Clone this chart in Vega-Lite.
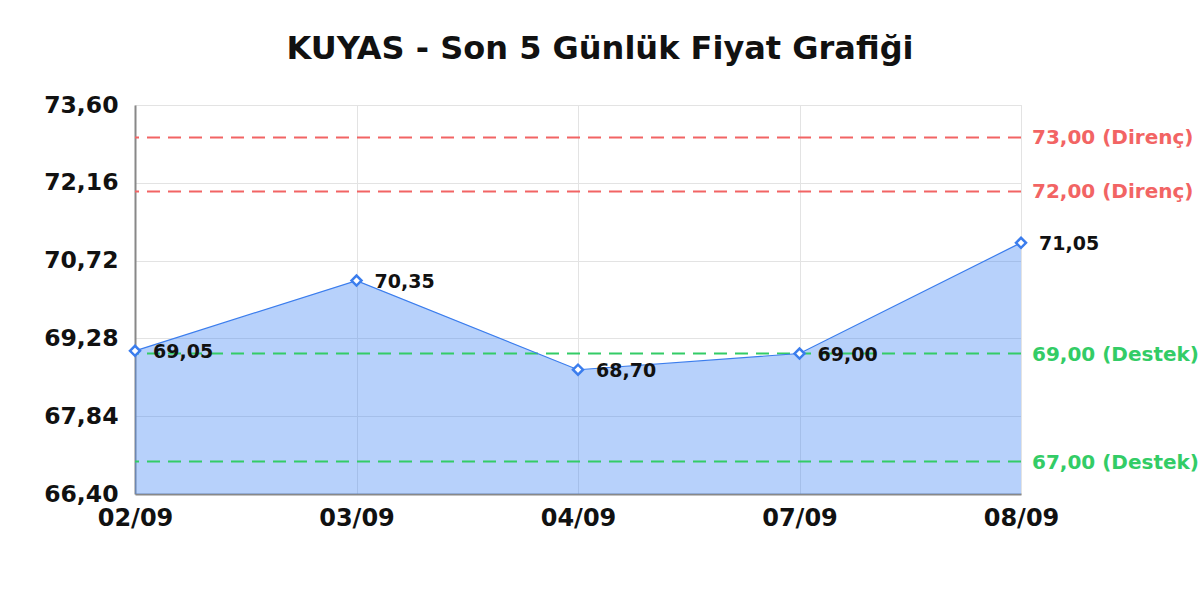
{
  "$schema": "https://vega.github.io/schema/vega-lite/v6.json",
  "width": 886,
  "height": 389,
  "autosize": "none",
  "padding": {"left": 135, "top": 105, "right": 179, "bottom": 106},
  "background": "white",
  "title": {
    "text": "KUYAS - Son 5 Günlük Fiyat Grafiği",
    "font": "DejaVu Sans",
    "fontSize": 32,
    "fontWeight": "bold",
    "color": "#111111",
    "anchor": "middle",
    "dx": 22,
    "offset": 27
  },
  "datasets": {
    "prices": [
      {"date": "02/09", "price": 69.05},
      {"date": "03/09", "price": 70.35},
      {"date": "04/09", "price": 68.70},
      {"date": "07/09", "price": 69.00},
      {"date": "08/09", "price": 71.05}
    ],
    "levels": [
      {"level": 73.00, "kind": "Direnç", "label": "73,00 (Direnç)", "pos": "08/09"},
      {"level": 72.00, "kind": "Direnç", "label": "72,00 (Direnç)", "pos": "08/09"},
      {"level": 69.00, "kind": "Destek", "label": "69,00 (Destek)", "pos": "08/09"},
      {"level": 67.00, "kind": "Destek", "label": "67,00 (Destek)", "pos": "08/09"}
    ]
  },
  "layer": [
    {
      "data": {"name": "prices"},
      "mark": {"type": "area", "color": "#4285f4", "opacity": 0.38, "clip": true},
      "encoding": {
        "x": {
          "field": "date",
          "type": "ordinal",
          "sort": null,
          "scale": {"type": "point", "padding": 0},
          "axis": {
            "title": null,
            "labelAngle": 0,
            "labelFont": "DejaVu Sans",
            "labelFontSize": 24,
            "labelFontWeight": "bold",
            "labelColor": "#111111",
            "labelPadding": 12,
            "ticks": false,
            "domainColor": "#888888",
            "domainWidth": 2,
            "gridColor": "#e3e3e3",
            "grid": true
          }
        },
        "y": {
          "field": "price",
          "type": "quantitative",
          "scale": {"domain": [66.4, 73.6], "zero": false, "nice": false},
          "axis": {
            "title": null,
            "values": [66.4, 67.84, 69.28, 70.72, 72.16, 73.6],
            "format": ".2f",
            "labelFont": "DejaVu Sans",
            "labelFontSize": 23.5,
            "labelFontWeight": "bold",
            "labelColor": "#111111",
            "labelPadding": 17,
            "ticks": false,
            "domainColor": "#888888",
            "domainWidth": 2,
            "gridColor": "#e3e3e3"
          }
        },
        "y2": {"datum": 66.4}
      }
    },
    {
      "data": {"name": "levels"},
      "mark": {"type": "rule", "strokeDash": [13, 8], "strokeWidth": 2},
      "encoding": {
        "y": {"field": "level", "type": "quantitative"},
        "color": {
          "field": "kind",
          "type": "nominal",
          "scale": {"domain": ["Direnç", "Destek"], "range": ["#f26464", "#33cc66"]},
          "legend": null
        }
      }
    },
    {
      "data": {"name": "prices"},
      "mark": {"type": "line", "color": "#3b7ded", "strokeWidth": 1.2},
      "encoding": {
        "x": {"field": "date", "type": "ordinal", "sort": null},
        "y": {"field": "price", "type": "quantitative"}
      }
    },
    {
      "data": {"name": "prices"},
      "mark": {"type": "point", "shape": "diamond", "filled": true, "fill": "white", "stroke": "#3b7ded", "strokeWidth": 2.5, "size": 100, "opacity": 1},
      "encoding": {
        "x": {"field": "date", "type": "ordinal", "sort": null},
        "y": {"field": "price", "type": "quantitative"}
      }
    },
    {
      "data": {"name": "prices"},
      "mark": {"type": "text", "align": "left", "baseline": "middle", "dx": 18, "dy": 1, "font": "DejaVu Sans", "fontSize": 19, "fontWeight": "bold", "color": "#111111"},
      "encoding": {
        "x": {"field": "date", "type": "ordinal", "sort": null},
        "y": {"field": "price", "type": "quantitative"},
        "text": {"field": "price", "type": "quantitative", "format": ".2f"}
      }
    },
    {
      "data": {"name": "levels"},
      "mark": {"type": "text", "align": "left", "baseline": "middle", "dx": 11, "dy": 1, "font": "DejaVu Sans", "fontSize": 20, "fontWeight": "bold"},
      "encoding": {
        "x": {"field": "pos", "type": "ordinal"},
        "y": {"field": "level", "type": "quantitative"},
        "text": {"field": "label"},
        "color": {"field": "kind", "type": "nominal", "legend": null}
      }
    }
  ],
  "config": {
    "locale": {
      "number": {"decimal": ",", "thousands": ".", "grouping": [3], "currency": ["", " TL"]}
    },
    "view": {"stroke": "#e3e3e3"},
    "axis": {"gridColor": "#e3e3e3"}
  }
}
